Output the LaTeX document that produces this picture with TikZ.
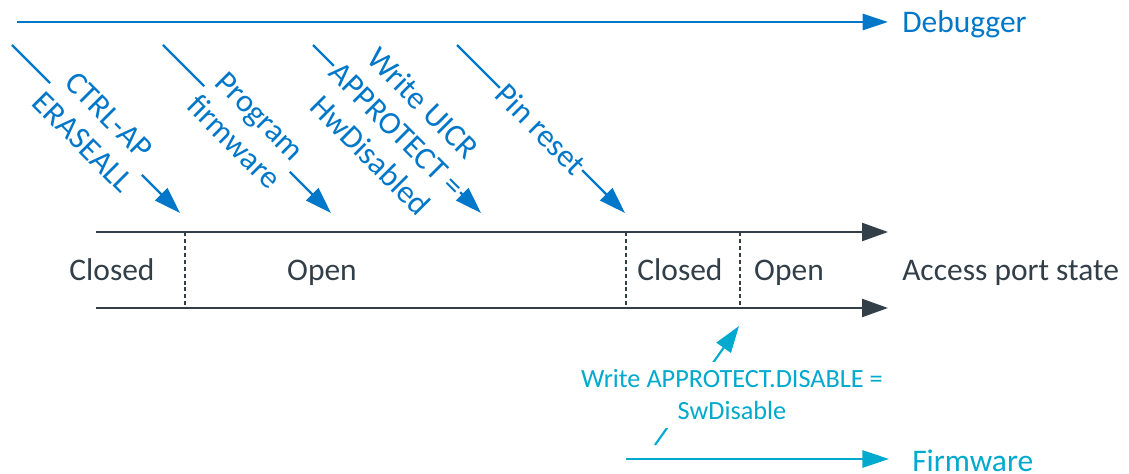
\documentclass[tikz,border=0pt]{standalone}
\usepackage{fontspec}
\setmainfont{Carlito}
\usetikzlibrary{arrows.meta}
\definecolor{lake}{HTML}{0077C8}
\definecolor{nblue}{HTML}{00A9CE}
\definecolor{dgrey}{HTML}{333F48}

\begin{document}
\begin{tikzpicture}[x=0.75pt,y=0.75pt,yscale=-1,xscale=1,
  dbgline/.style={color=lake, line width=2.2pt, -{Triangle[length=19pt,width=12pt]}},
  dbgarrow/.style={color=lake, line width=1.8pt, -{Triangle[length=20pt,width=13pt]}},
  steplbl/.style={midway, rotate=-45, fill=white, text=lake, inner xsep=1pt, inner ysep=0pt, align=center, font=\fontsize{24}{27.75}\selectfont},
  tline/.style={color=dgrey, line width=1.75pt, -{Triangle[length=19.5pt,width=13.5pt]}},
  bound/.style={color=dgrey, line width=1.4pt, dash pattern=on 3pt off 2.2pt},
  statelbl/.style={anchor=base, text=dgrey, inner sep=0pt, font=\fontsize{23.6}{28}\selectfont},
  fwarrow/.style={color=nblue, line width=1.6pt, -{Triangle[length=20pt,width=13pt]}},
  fwlbl/.style={fill=white, text=nblue, align=center, inner xsep=4pt, inner ysep=6pt, font=\fontsize{19.7}{24}\selectfont}
]
\useasboundingbox (0,0) rectangle (1129,474);

%Straight Lines: debugger
\coordinate (dbgs) at (17,22);
\coordinate (dbge) at (888,22);
\draw [dbgline] (dbgs) -- (dbge);
% Text Node
\node [statelbl, anchor=base west, text=lake] (dbg) at (902,33) {Debugger};

%Straight Lines: debugger steps
\coordinate (e1s) at (12,45);
\coordinate (e1e) at (180,213);
\draw [dbgarrow] (e1s) -- node [steplbl] (l1) {CTRL-AP\\ERASEALL} (e1e);
\coordinate (e2s) at (163,45);
\coordinate (e2e) at (331,213);
\draw [dbgarrow] (e2s) -- node [steplbl] (l2) {Program\\firmware} (e2e);
\coordinate (e3s) at (313,45);
\coordinate (e3e) at (481,213);
\draw [dbgarrow] (e3s) -- node [steplbl] (l3) {Write UICR\\APPROTECT =\\HwDisabled} (e3e);
\coordinate (e4s) at (457,45);
\coordinate (e4e) at (625,213);
\draw [dbgarrow] (e4s) -- node [steplbl] (l4) {Pin reset} (e4e);

%Straight Lines: access port state
\coordinate (t1s) at (96,232);
\coordinate (t1e) at (888,232);
\coordinate (t2s) at (96,308);
\coordinate (t2e) at (888,308);
\draw [tline] (t1s) -- (t1e);
\draw [tline] (t2s) -- (t2e);
\coordinate (b1) at (185,232);
\coordinate (b2) at (626,232);
\coordinate (b3) at (740,232);
\draw [bound] (b1) -- (b1 |- t2s);
\draw [bound] (b2) -- (b2 |- t2s);
\draw [bound] (b3) -- (b3 |- t2s);

% Text Node
\node [statelbl] (s1) at (112,281) {Closed};
\node [statelbl] (s2) at (322,281) {Open};
\node [statelbl] (s3) at (680,281) {Closed};
\node [statelbl] (s4) at (789,281) {Open};
\node [statelbl, anchor=base west] (aps) at (902,281) {Access port state};

%Straight Lines: firmware
\coordinate (fws) at (626,459);
\coordinate (fwe) at (889,459);
\draw [fwarrow] (fws) -- (fwe);
% Text Node
\node [statelbl, anchor=base west, text=nblue] (fw) at (912,471) {Firmware};

%Straight Lines: firmware step
\coordinate (sws) at (655,445);
\coordinate (swe) at (739,326);
\draw [fwarrow] (sws) -- (swe);
% Text Node
\node [fwlbl] (swl) at (732,395) {Write APPROTECT.DISABLE =\\SwDisable};

\end{tikzpicture}
\end{document}
